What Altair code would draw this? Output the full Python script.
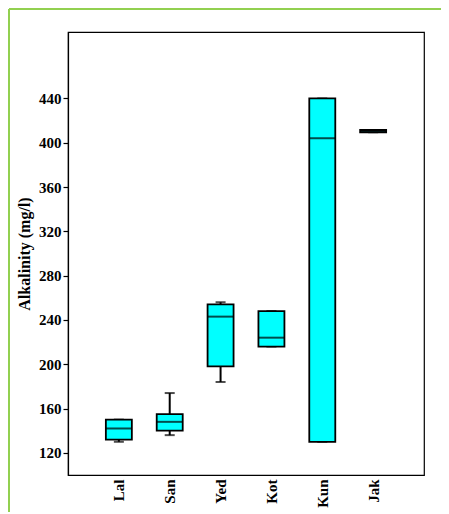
import altair as alt
import pandas as pd

sites = ["Lal", "San", "Yed", "Kot", "Kun", "Jak"]
lower = [130, 136, 184, 216, 130, 409.5]
q1 = [132, 140, 198, 216, 130, 409.5]
median = [142, 148, 243, 224, 404, 410.5]
q3 = [150, 155, 254, 248, 440, 411.5]
upper = [150, 174, 256, 248, 440, 411.5]
y_ticks = [120, 160, 200, 240, 280, 320, 360, 400, 440]

df = pd.DataFrame({"site": sites, "lower": lower, "q1": q1, "median": median,
                   "q3": q3, "upper": upper})

FONT = "Liberation Serif"

x = alt.X("site:N", sort=sites, scale=alt.Scale(type="point", padding=1),
          axis=alt.Axis(title=None, labelAngle=270, ticks=False, labelPadding=4,
                        domain=False))
yscale = alt.Scale(domain=[100, 500], nice=False, zero=False)
y_axis = alt.Axis(values=y_ticks, title="Alkalinity (mg/l)", grid=False,
                  tickSize=5, titlePadding=6)

base = alt.Chart(df)

whisk = base.mark_rule(color="black", strokeWidth=2).encode(
    x=x, y=alt.Y("lower:Q", scale=yscale, axis=y_axis), y2="upper:Q")
cap_lo = base.mark_tick(color="black", size=10, thickness=2).encode(
    x=x, y=alt.Y("lower:Q", scale=yscale))
cap_hi = base.mark_tick(color="black", size=10, thickness=2).encode(
    x=x, y=alt.Y("upper:Q", scale=yscale))
box = base.mark_bar(size=26, fill="#00FFFF", stroke="black", strokeWidth=1.8).encode(
    x=x, y=alt.Y("q1:Q", scale=yscale), y2="q3:Q")
med = base.mark_tick(color="black", size=26, thickness=2).encode(
    x=x, y=alt.Y("median:Q", scale=yscale))

deco = pd.DataFrame({"d": [0]})
green_left = alt.Chart(deco).mark_rule(color="#92D050", strokeWidth=2).encode(
    x=alt.value(-59), y=alt.value(-23), y2=alt.value(480))
green_top = alt.Chart(deco).mark_rule(color="#92D050", strokeWidth=2).encode(
    x=alt.value(-59), x2=alt.value(380), y=alt.value(-23))

chart = alt.layer(green_left, green_top, whisk, cap_lo, cap_hi, box, med).properties(
    width=356, height=443,
    autosize=alt.AutoSizeParams(type="none"),
    padding={"left": 60, "top": 24, "right": 17, "bottom": 39},
    background="white",
).configure_view(
    stroke="black", strokeWidth=1.2
).configure_axis(
    labelFont=FONT, labelFontSize=15, labelFontWeight="bold", labelColor="black",
    titleFont=FONT, titleFontSize=16, titleFontWeight="bold", titleColor="black",
    domainColor="black", tickColor="black", domainWidth=1.2, tickWidth=1.2,
)

chart.save("out.html", embed_options={"renderer": "svg", "actions": False})
